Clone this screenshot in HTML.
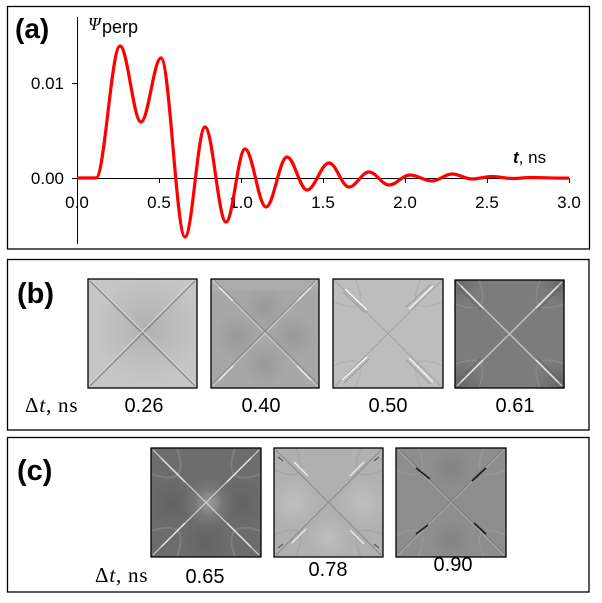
<!DOCTYPE html>
<html><head><meta charset="utf-8"><style>
html,body{margin:0;padding:0;background:#fff;}
svg{display:block;}
</style></head><body>
<svg width="602" height="603" viewBox="0 0 602 603" xmlns="http://www.w3.org/2000/svg">
<defs>
<clipPath id="cl" clipPathUnits="userSpaceOnUse"><rect x="0" y="0" width="110" height="109"/></clipPath>
<radialGradient id="gDarkC" cx="0.55" cy="0.45" r="0.5">
<stop offset="0" stop-color="#a8a8a8" stop-opacity="0.7"/>
<stop offset="1" stop-color="#a8a8a8" stop-opacity="0"/>
</radialGradient>
<radialGradient id="spot" cx="0.5" cy="0.5" r="0.5">
<stop offset="0" stop-color="#000" stop-opacity="0.08"/>
<stop offset="1" stop-color="#000" stop-opacity="0"/>
</radialGradient>
<radialGradient id="spotL" cx="0.5" cy="0.5" r="0.5">
<stop offset="0" stop-color="#fff" stop-opacity="0.18"/>
<stop offset="1" stop-color="#fff" stop-opacity="0"/>
</radialGradient>
<radialGradient id="spotD2" cx="0.5" cy="0.5" r="0.5">
<stop offset="0" stop-color="#000" stop-opacity="0.2"/>
<stop offset="1" stop-color="#000" stop-opacity="0"/>
</radialGradient>
</defs>
<rect width="602" height="603" fill="#fff"/>

<!-- Frames -->
<rect x="7.5" y="6.5" width="582" height="242.5" fill="none" stroke="#000" stroke-width="1.3"/>
<rect x="7.5" y="259.5" width="581.5" height="170.5" fill="none" stroke="#000" stroke-width="1.3"/>
<rect x="7.5" y="437.5" width="581.5" height="154.5" fill="none" stroke="#000" stroke-width="1.3"/>

<!-- Panel (a) -->
<text x="15" y="38" font-family="Liberation Sans, sans-serif" font-size="28" font-weight="bold">(a)</text>
<text x="88" y="30" font-family="Liberation Serif, serif" font-style="italic" font-size="18">Ψ</text>
<text x="102" y="33" font-family="Liberation Sans, sans-serif" font-size="18">perp</text>

<g stroke="#000" stroke-width="1" fill="none">
<line x1="77.5" y1="17" x2="77.5" y2="244"/>
<line x1="72" y1="178.5" x2="570" y2="178.5"/>
<line x1="72" y1="83.5" x2="77.5" y2="83.5"/>
<line x1="159.5" y1="178.5" x2="159.5" y2="183"/>
<line x1="241.5" y1="178.5" x2="241.5" y2="183"/>
<line x1="323.5" y1="178.5" x2="323.5" y2="183"/>
<line x1="405.5" y1="178.5" x2="405.5" y2="183"/>
<line x1="487.5" y1="178.5" x2="487.5" y2="183"/>
<line x1="569.5" y1="178.5" x2="569.5" y2="183"/>
</g>
<g font-family="Liberation Sans, sans-serif" font-size="17" fill="#000">
<text x="64" y="89" text-anchor="end">0.01</text>
<text x="64" y="184" text-anchor="end">0.00</text>
<g text-anchor="middle">
<text x="77" y="208">0.0</text>
<text x="159" y="208">0.5</text>
<text x="241" y="208">1.0</text>
<text x="323" y="208">1.5</text>
<text x="405" y="208">2.0</text>
<text x="487" y="208">2.5</text>
<text x="569" y="208">3.0</text>
</g>
</g>
<text x="513" y="163" font-family="Liberation Sans, sans-serif" font-size="17"><tspan font-weight="bold" font-style="italic">t</tspan>, ns</text>

<path fill="none" stroke="#ff0000" stroke-width="3.2" stroke-linejoin="round" d="M77,178 L96,178
C104.6,178 111.4,46 120,46
C127.6,46 133.4,122 141,122
C148.2,122 153.8,58 161,58
C169.6,58 176.4,237 185,237
C192.2,237 197.8,127 205,127
C212.6,127 218.4,222 226,222
C232.8,222 238.2,149 245,149
C252.6,149 258.4,207 266,207
C273.6,207 279.4,157 287,157
C294.2,157 299.8,190 307,190
C314.9,190 321.1,163 329,163
C336.2,163 341.8,187 349,187
C356.2,187 361.8,172 369,172
C376.2,172 381.8,185 389,185
C396.6,185 402.4,175 410,175
C417.9,175 424.1,181 432,181
C439.2,181 444.8,174 452,174
C459.2,174 464.8,179 472,179
C479.2,179 484.8,176.5 492,176.5
C499.2,176.5 504.8,178.5 512,178.5
C519.2,178.5 524.8,177.5 532,177.5
C545,177.5 555,178.5 569,178"/>

<!-- Panel (b) -->
<text x="17" y="303" font-family="Liberation Sans, sans-serif" font-size="29" font-weight="bold">(b)</text>

<!-- img 0.26 -->
<g transform="translate(88,279)">
<g clip-path="url(#cl)">
<rect width="109" height="109" fill="#c6c6c6"/>
<rect width="109" height="109" fill="url(#gDarkC)"/>
<path d="M2,2 L107,107 M107,2 L2,107" stroke="#747474" stroke-width="1.2" opacity="0.8" fill="none"/>
<path d="M3.5,1 L108,105.5 M105.5,1 L1,105.5" stroke="#d8d8d8" stroke-width="0.8" fill="none"/>
</g>
<rect x="0" y="0" width="109" height="109" fill="none" stroke="#000" stroke-width="1.3"/>
</g>

<!-- img 0.40 -->
<g transform="translate(211,279)">
<g clip-path="url(#cl)">
<rect width="108" height="109" fill="#a7a7a7"/>
<rect x="0" y="0" width="108" height="12" fill="#b4b4b4" opacity="0.4"/>
<circle cx="26" cy="58" r="24" fill="url(#spot)"/>
<circle cx="82" cy="58" r="24" fill="url(#spot)"/>
<circle cx="54" cy="28" r="22" fill="url(#spot)"/>
<circle cx="54" cy="86" r="22" fill="url(#spot)"/>
<path d="M2,2 L106,107 M106,2 L2,107" stroke="#cdcdcd" stroke-width="1" fill="none"/>
<path d="M4,2 L107,105 M104,2 L1,105" stroke="#828282" stroke-width="0.8" fill="none"/>
<path d="M8,8 L22,22 M100,8 L86,22 M8,101 L22,87 M100,101 L86,87" stroke="#eeeeee" stroke-width="1.4" fill="none"/>
</g>
<rect x="0" y="0" width="108" height="109" fill="none" stroke="#000" stroke-width="1.3"/>
</g>

<!-- img 0.50 -->
<g transform="translate(333,279)">
<g clip-path="url(#cl)">
<rect width="110" height="109" fill="#bdbdbd"/>
<path d="M22,0 Q40,40 0,22 M88,0 Q70,40 110,22 M22,109 Q40,70 0,87 M88,109 Q70,70 110,87" stroke="#a8a8a8" stroke-width="1.5" fill="none" opacity="0.5"/>
<path d="M2,2 L108,107 M108,2 L2,107" stroke="#a0a0a0" stroke-width="0.9" fill="none"/>
<path d="M12,10 L34,31 M100,7 L76,30 M9,101 L34,78 M76,79 L100,103" stroke="#f4f4f4" stroke-width="1.5" fill="none"/>
<path d="M10,13 L32,34 M98,5 L73,28 M11,104 L36,80 M73,81 L97,105" stroke="#909090" stroke-width="0.8" fill="none"/>
</g>
<rect x="0" y="0" width="110" height="109" fill="none" stroke="#000" stroke-width="1.3"/>
</g>

<!-- img 0.61 -->
<g transform="translate(455,280)">
<g clip-path="url(#cl)">
<rect width="109" height="108" fill="#7c7c7c"/>
<circle cx="0" cy="108" r="30" fill="url(#spotD2)"/>
<circle cx="109" cy="108" r="30" fill="url(#spotD2)"/>
<circle cx="0" cy="0" r="24" fill="url(#spotD2)"/>
<circle cx="109" cy="0" r="24" fill="url(#spotD2)"/>
<path d="M24,0 Q38,38 0,24 M85,0 Q71,38 109,24 M24,108 Q38,70 0,84 M85,108 Q71,70 109,84" stroke="#959595" stroke-width="1.5" fill="none" opacity="0.5"/>
<path d="M2,2 L107,106 M107,2 L2,106" stroke="#c2c2c2" stroke-width="1.4" fill="none"/>
<path d="M6,6 L28,28 M103,6 L81,28 M6,102 L28,80 M103,102 L81,80" stroke="#e6e6e6" stroke-width="1.4" fill="none"/>
<path d="M4,8 L26,30 M105,8 L83,30 M4,100 L26,78 M105,100 L83,78" stroke="#555" stroke-width="0.9" fill="none" opacity="0.6"/>
</g>
<rect x="0" y="0" width="109" height="108" fill="none" stroke="#000" stroke-width="1.3"/>
</g>

<g font-family="Liberation Sans, sans-serif" font-size="20" text-anchor="middle">
<text x="144" y="412">0.26</text>
<text x="261" y="412">0.40</text>
<text x="388" y="412">0.50</text>
<text x="515" y="412">0.61</text>
</g>
<text x="25" y="412" font-family="Liberation Serif, serif" font-size="21" letter-spacing="0.8">Δ<tspan font-style="italic">t</tspan>, ns</text>

<!-- Panel (c) -->
<text x="17" y="480" font-family="Liberation Sans, sans-serif" font-size="29" font-weight="bold">(c)</text>

<!-- img 0.65 -->
<g transform="translate(151,448)">
<g clip-path="url(#cl)">
<rect width="110" height="109" fill="#6c6c6c"/>
<circle cx="58" cy="55" r="26" fill="url(#spotL)"/>
<circle cx="58" cy="55" r="14" fill="url(#spotL)"/>
<circle cx="20" cy="55" r="26" fill="url(#spot)"/>
<circle cx="90" cy="55" r="26" fill="url(#spot)"/>
<circle cx="55" cy="95" r="24" fill="url(#spot)"/>
<path d="M26,0 Q40,40 0,26 M84,0 Q70,40 110,26 M26,109 Q40,70 0,83 M84,109 Q70,70 110,83" stroke="#8a8a8a" stroke-width="2" fill="none" opacity="0.6"/>
<path d="M2,2 L108,107 M108,2 L2,107" stroke="#cfcfcf" stroke-width="1.2" fill="none"/>
<path d="M10,10 L34,34 M100,10 L76,34 M10,99 L34,75 M100,99 L76,75" stroke="#e8e8e8" stroke-width="1.3" fill="none"/>
</g>
<rect x="0" y="0" width="110" height="109" fill="none" stroke="#000" stroke-width="1.3"/>
</g>

<!-- img 0.78 -->
<g transform="translate(274,448)">
<g clip-path="url(#cl)">
<rect width="109" height="109" fill="#b0b0b0"/>
<circle cx="20" cy="55" r="28" fill="url(#spotL)"/>
<circle cx="89" cy="55" r="28" fill="url(#spotL)"/>
<circle cx="55" cy="90" r="22" fill="url(#spotL)"/>
<path d="M22,0 Q38,38 0,22 M87,0 Q71,38 109,22 M22,109 Q38,71 0,87 M87,109 Q71,71 109,87" stroke="#9c9c9c" stroke-width="1.5" fill="none" opacity="0.5"/>
<path d="M2,2 L107,107 M107,2 L2,107" stroke="#8c8c8c" stroke-width="1.1" fill="none"/>
<path d="M20,14 L34,28 M90,14 L76,28 M18,95 L32,81 M90,96 L76,82" stroke="#eeeeee" stroke-width="1.3" fill="none"/>
<path d="M4,9 L9,13 M105,9 L100,13 M4,100 L9,96 M105,100 L100,96" stroke="#444" stroke-width="1" fill="none"/>
</g>
<rect x="0" y="0" width="109" height="109" fill="none" stroke="#000" stroke-width="1.3"/>
</g>

<!-- img 0.90 -->
<g transform="translate(396,448)">
<g clip-path="url(#cl)">
<rect width="110" height="109" fill="#8e8e8e"/>
<circle cx="55" cy="20" r="22" fill="url(#spot)"/>
<circle cx="55" cy="92" r="22" fill="url(#spot)"/>
<path d="M22,0 Q38,38 0,22 M88,0 Q72,38 110,22 M22,109 Q38,71 0,87 M88,109 Q72,71 110,87" stroke="#a0a0a0" stroke-width="1.5" fill="none" opacity="0.5"/>
<path d="M2,2 L108,107 M108,2 L2,107" stroke="#a6a6a6" stroke-width="0.9" fill="none"/>
<path d="M4,2 L108,105 M106,2 L2,105" stroke="#787878" stroke-width="0.7" fill="none"/>
<path d="M20,20 L34,31 M76,33 L90,20 M20,86 L32,77 M78,75 L90,86" stroke="#1a1a1a" stroke-width="1.6" fill="none"/>
</g>
<rect x="0" y="0" width="110" height="109" fill="none" stroke="#000" stroke-width="1.3"/>
</g>

<g font-family="Liberation Sans, sans-serif" font-size="20" text-anchor="middle">
<text x="205" y="583">0.65</text>
<text x="328" y="576">0.78</text>
<text x="453" y="571">0.90</text>
</g>
<text x="95" y="582" font-family="Liberation Serif, serif" font-size="21" letter-spacing="0.8">Δ<tspan font-style="italic">t</tspan>, ns</text>
</svg>
</body></html>
